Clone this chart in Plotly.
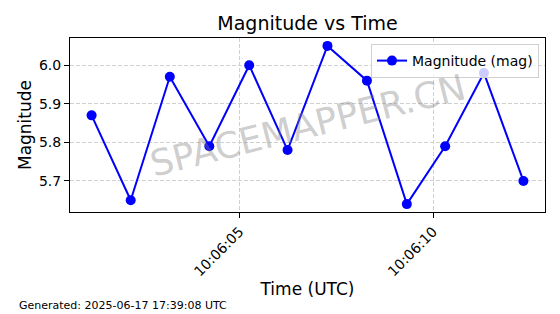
import plotly.graph_objects as go
import pandas as pd

# ---- data ----
times = [
    "2025-06-17 10:06:01.180", "2025-06-17 10:06:02.190", "2025-06-17 10:06:03.200",
    "2025-06-17 10:06:04.220", "2025-06-17 10:06:05.250", "2025-06-17 10:06:06.240",
    "2025-06-17 10:06:07.270", "2025-06-17 10:06:08.290", "2025-06-17 10:06:09.320",
    "2025-06-17 10:06:10.310", "2025-06-17 10:06:11.310", "2025-06-17 10:06:12.330",
]
magnitudes = [5.87, 5.65, 5.97, 5.79, 6.00, 5.78, 6.05, 5.96, 5.64, 5.79, 5.98, 5.70]
y_ticks = [5.7, 5.8, 5.9, 6.0]
x_ticks = ["2025-06-17 10:06:05", "2025-06-17 10:06:10"]
x_tick_labels = ["10:06:05", "10:06:10"]
series_name = "Magnitude (mag)"
title_text = "Magnitude vs Time"
x_title = "Time (UTC)"
y_title = "Magnitude"
footer = "Generated: 2025-06-17 17:39:08 UTC"
watermark = "SPACEMAPPER.CN"

# ---- ranges with matplotlib-like 5% margins ----
t = pd.to_datetime(times)
tspan = t.max() - t.min()
xr = [t.min() - tspan * 0.05, t.max() + tspan * 0.05]
ymin, ymax = min(magnitudes), max(magnitudes)
ypad = (ymax - ymin) * 0.05
yr = [ymin - ypad, ymax + ypad]

FONT = "DejaVu Sans"
W, H = 560, 314
L, R, T, B = 70, 15, 38, 102
pw, ph = W - L - R, H - T - B

fig = go.Figure()
fig.add_trace(go.Scatter(
    x=t, y=magnitudes, mode="lines+markers", name=series_name,
    line=dict(color="#0000ff", width=2),
    marker=dict(color="#0000ff", size=10),
))

fig.update_layout(
    width=W, height=H,
    margin=dict(l=L, r=R, t=T, b=B),
    paper_bgcolor="white", plot_bgcolor="white",
    font=dict(family=FONT, color="black", size=14),
    title=dict(text=title_text, x=0.5, xref="paper", xanchor="center",
               y=1 - 23 / H, yref="container", yanchor="middle",
               font=dict(size=19, family=FONT, color="black")),
    showlegend=True,
    legend=dict(x=1 - 6 / pw, y=1 - 6 / ph, xanchor="right", yanchor="top",
                bgcolor="rgba(255,255,255,0.8)", bordercolor="#d0d0d0", borderwidth=1,
                font=dict(size=14, family=FONT), itemwidth=30,
                tracegroupgap=0),
)

fig.update_xaxes(
    range=xr, type="date",
    tickvals=pd.to_datetime(x_ticks), ticktext=x_tick_labels, tickangle=-45,
    tickfont=dict(size=14, family=FONT),
    ticks="outside", ticklen=5, tickwidth=1, tickcolor="black",
    showline=True, linecolor="black", linewidth=1, mirror=True,
    showgrid=True, gridcolor="#d0d0d0", griddash="4px,2px", gridwidth=1,
    zeroline=False,
    title=dict(text=x_title, font=dict(size=17, family=FONT), standoff=4),
)
fig.update_yaxes(
    range=yr, tickvals=y_ticks, ticktext=[f"{v:.1f}" for v in y_ticks],
    tickfont=dict(size=14, family=FONT),
    ticks="outside", ticklen=5, tickwidth=1, tickcolor="black",
    showline=True, linecolor="black", linewidth=1, mirror=True,
    showgrid=True, gridcolor="#d0d0d0", griddash="4px,2px", gridwidth=1,
    zeroline=False,
    title=dict(text=y_title, font=dict(size=17, family=FONT), standoff=2),
)

fig.add_annotation(
    text=watermark, xref="paper", yref="paper", x=0.5, y=0.5,
    xanchor="center", yanchor="middle", showarrow=False, textangle=-14,
    font=dict(size=36, family=FONT, color="rgba(128,128,128,0.4)"),
)
fig.add_annotation(
    text=footer, xref="paper", yref="paper",
    x=(17 - L) / pw, y=(H - B - 305) / ph,
    xanchor="left", yanchor="middle", showarrow=False,
    font=dict(size=11, family=FONT, color="black"),
)

fig.write_html("out.html")
